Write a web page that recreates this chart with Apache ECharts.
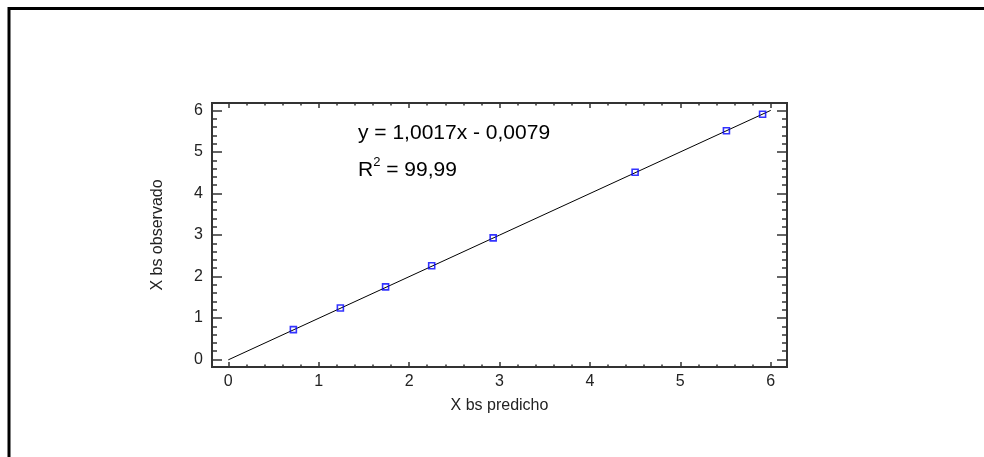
<!DOCTYPE html>
<html>
<head>
<meta charset="utf-8">
<script src="https://cdn.jsdelivr.net/npm/echarts@6/dist/echarts.min.js"></script>
<style>
  html, body { margin: 0; padding: 0; background: #fff; }
  #chart { width: 984px; height: 457px; }
</style>
</head>
<body>
<div id="chart"></div>
<script>
// Predicted vs observed values
const predicted = [0.72, 1.24, 1.74, 2.25, 2.93, 4.50, 5.51, 5.91];
const observed  = [0.72, 1.24, 1.75, 2.26, 2.93, 4.51, 5.51, 5.91];

// Fitted regression line and its fit statistic
const slope = 1.0017;
const intercept = -0.0079;
const rSquared = 99.99;
const fitRange = [0, 6];

// Axis ticks
const majorTicks = [0, 1, 2, 3, 4, 5, 6];
const minorTicks = [];
for (let i = 1; i < 30; i++) {
  if (i % 5 !== 0) minorTicks.push(Math.round(i * 20) / 100);
}

const axisMin = -0.18;
const axisMax = 6.18;
const FONT = '"Liberation Sans", Arial, sans-serif';
const INK = '#222';

const fmt = (v, d) => v.toFixed(d).replace('.', ',');

function axis(position, ticks, len, opts) {
  opts = opts || {};
  return Object.assign({
    type: 'value',
    gridIndex: 0,
    position: position,
    offset: 0,
    min: axisMin,
    max: axisMax,
    axisLine: { show: false, onZero: false },
    splitLine: { show: false },
    axisTick: {
      show: true,
      inside: true,
      length: len,
      customValues: ticks,
      lineStyle: { color: '#333', width: 1.5 }
    },
    axisLabel: { show: false }
  }, opts);
}

const labelStyle = {
  show: true,
  customValues: majorTicks,
  color: INK,
  fontFamily: FONT,
  fontSize: 16
};

const xAxes = [
  axis('bottom', majorTicks, 5, {
    axisLabel: Object.assign({ margin: 7 }, labelStyle),
    name: 'X bs predicho',
    nameLocation: 'middle',
    nameGap: 31,
    nameTextStyle: { color: INK, fontFamily: FONT, fontSize: 16 }
  }),
  axis('bottom', minorTicks, 2.5),
  axis('top', majorTicks, 5),
  axis('top', minorTicks, 2.5)
];

const yAxes = [
  axis('left', majorTicks, 10, {
    axisLabel: Object.assign({ margin: 9 }, labelStyle),
    name: 'X bs observado',
    nameLocation: 'middle',
    nameGap: 46,
    nameRotate: 90,
    nameTextStyle: { color: INK, fontFamily: FONT, fontSize: 16 }
  }),
  axis('left', minorTicks, 5),
  axis('right', majorTicks, 10),
  axis('right', minorTicks, 5)
];

const points = predicted.map((x, i) => [x, observed[i]]);
const fitLine = fitRange.map(x => [x, slope * x + intercept]);

const chart = echarts.init(document.getElementById('chart'), null, { renderer: 'canvas' });
chart.setOption({
  animation: false,
  backgroundColor: '#fff',
  grid: {
    left: 212, top: 103, width: 575, height: 264,
    show: true,
    borderColor: '#333',
    borderWidth: 2,
    backgroundColor: 'transparent',
    containLabel: false,
    outerBoundsMode: 'none'
  },
  xAxis: xAxes,
  yAxis: yAxes,
  series: [
    {
      type: 'line',
      data: fitLine,
      showSymbol: false,
      symbol: 'none',
      lineStyle: { color: '#000', width: 1 },
      silent: true,
      z: 2
    },
    {
      type: 'scatter',
      data: points,
      symbol: 'rect',
      symbolSize: 6,
      itemStyle: { color: 'rgba(0,0,0,0)', borderColor: '#0000ff', borderWidth: 1.6 },
      z: 3
    }
  ],
  graphic: [
    {
      type: 'rect',
      shape: { x: 9, y: 8.5, width: 1000, height: 500 },
      style: { fill: 'none', stroke: '#000', lineWidth: 3 },
      silent: true
    },
    {
      type: 'text',
      x: 358, y: 133,
      style: {
        text: 'y = ' + fmt(slope, 4) + 'x - ' + fmt(-intercept, 4),
        font: '21px ' + FONT,
        fill: '#000',
        verticalAlign: 'middle'
      }
    },
    {
      type: 'text',
      x: 358, y: 170,
      style: {
        text: 'R{sup|2} = ' + fmt(rSquared, 2),
        font: '21px ' + FONT,
        fill: '#000',
        verticalAlign: 'middle',
        lineHeight: 28,
        rich: {
          sup: { fontSize: 13, fontFamily: FONT, fill: '#000', verticalAlign: 'top', lineHeight: 28 }
        }
      }
    }
  ]
});
</script>
</body>
</html>
